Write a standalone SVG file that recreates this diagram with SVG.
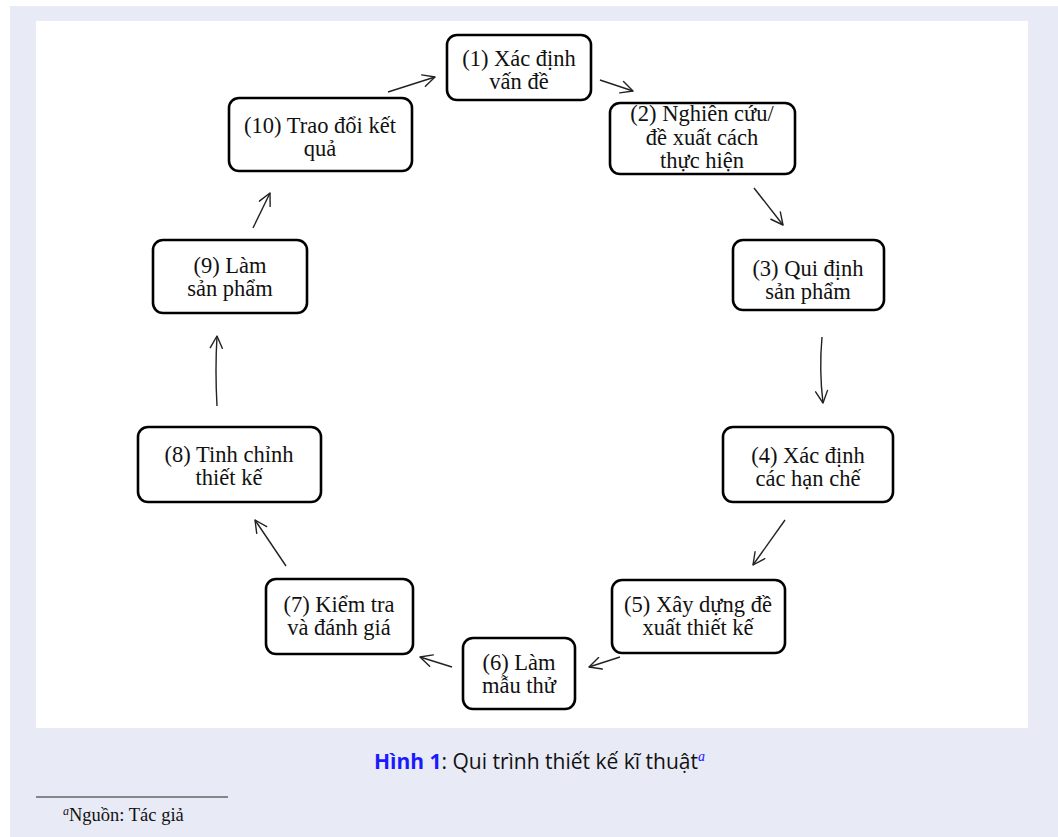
<svg xmlns="http://www.w3.org/2000/svg" width="1058" height="837" viewBox="0 0 1058 837">
<defs>
<marker id="ah" viewBox="0 0 14 14" refX="13" refY="7" markerWidth="14" markerHeight="14" markerUnits="userSpaceOnUse" orient="auto">
<path d="M1,1 L13,7 L1,13" fill="none" stroke="#222" stroke-width="1.4" stroke-linecap="round" stroke-linejoin="round"/>
</marker>
</defs>
<style>
.box{fill:#fff;stroke:#000;stroke-width:2.6}
.t{font-family:"Liberation Serif","Times New Roman",serif;font-size:22.5px;fill:#111;text-anchor:middle}
.c{fill:none;stroke:#222;stroke-width:1.4;marker-end:url(#ah)}
.cap{font-family:"Open Sans","Noto Sans","Liberation Sans",sans-serif;font-size:21px;fill:#111}
.fn{font-family:"Liberation Serif","Times New Roman",serif;font-size:18.5px;fill:#111}
</style>
<rect x="10" y="6" width="1048" height="831" fill="#e8ebf5"/>
<rect x="36" y="21" width="992" height="707" fill="#fff"/>
<g id="connectors">
<path class="c" d="M388,92 L435,77"/>
<path class="c" d="M600,80 L633,91"/>
<path class="c" d="M754,188 L783,225"/>
<path class="c" d="M822,337 Q819,370 823,403"/>
<path class="c" d="M785,520 L753,565"/>
<path class="c" d="M620,657 L589,667"/>
<path class="c" d="M452,667 L420,657"/>
<path class="c" d="M286,566 L255,520"/>
<path class="c" d="M217,406 Q215,370 217,336"/>
<path class="c" d="M253,228 L270,193"/>
</g>
<g id="n1"><rect class="box" x="447" y="35" width="144" height="65" rx="10"/><text class="t" x="519" y="66">(1) Xác định</text><text class="t" x="519" y="89">vấn đề</text></g>
<g id="n2"><rect class="box" x="610" y="103" width="185" height="71" rx="10"/><text class="t" x="702" y="121">(2) Nghiên cứu/</text><text class="t" x="702" y="145">đề xuất cách</text><text class="t" x="702" y="168">thực hiện</text></g>
<g id="n3"><rect class="box" x="733" y="240" width="151" height="70" rx="10"/><text class="t" x="808" y="276">(3) Qui định</text><text class="t" x="808" y="299">sản phẩm</text></g>
<g id="n4"><rect class="box" x="723" y="427" width="170" height="75" rx="10"/><text class="t" x="808" y="463">(4) Xác định</text><text class="t" x="808" y="486">các hạn chế</text></g>
<g id="n5"><rect class="box" x="612" y="580" width="173" height="73" rx="10"/><text class="t" x="698" y="612">(5) Xây dựng đề</text><text class="t" x="698" y="635">xuất thiết kế</text></g>
<g id="n6"><rect class="box" x="463" y="638" width="112" height="71" rx="10"/><text class="t" x="519" y="670">(6) Làm</text><text class="t" x="519" y="693">mẫu thử</text></g>
<g id="n7"><rect class="box" x="266" y="579" width="147" height="75" rx="10"/><text class="t" x="339" y="612">(7) Kiểm tra</text><text class="t" x="339" y="635">và đánh giá</text></g>
<g id="n8"><rect class="box" x="138" y="427" width="183" height="75" rx="10"/><text class="t" x="229" y="462">(8) Tinh chỉnh</text><text class="t" x="229" y="485">thiết kế</text></g>
<g id="n9"><rect class="box" x="153" y="240" width="154" height="73" rx="10"/><text class="t" x="230" y="273">(9) Làm</text><text class="t" x="230" y="296">sản phẩm</text></g>
<g id="n10"><rect class="box" x="229" y="98" width="183" height="73" rx="10"/><text class="t" x="320" y="133">(10) Trao đổi kết</text><text class="t" x="320" y="156">quả</text></g>
<g id="caption"><text class="cap" x="374" y="769"><tspan font-weight="bold" fill="#1a1aff">Hình 1</tspan>: Qui trình thiết kế kĩ thuật<tspan font-family="Liberation Serif,serif" font-style="italic" font-size="14" dy="-8" fill="#1a1aff">a</tspan></text></g>
<g id="footnote"><line x1="36" y1="797" x2="228" y2="797" stroke="#222" stroke-width="1"/><text class="fn" x="63" y="821"><tspan font-style="italic" font-size="12" dy="-6">a</tspan><tspan dy="6">Nguồn: Tác giả</tspan></text></g>
</svg>
